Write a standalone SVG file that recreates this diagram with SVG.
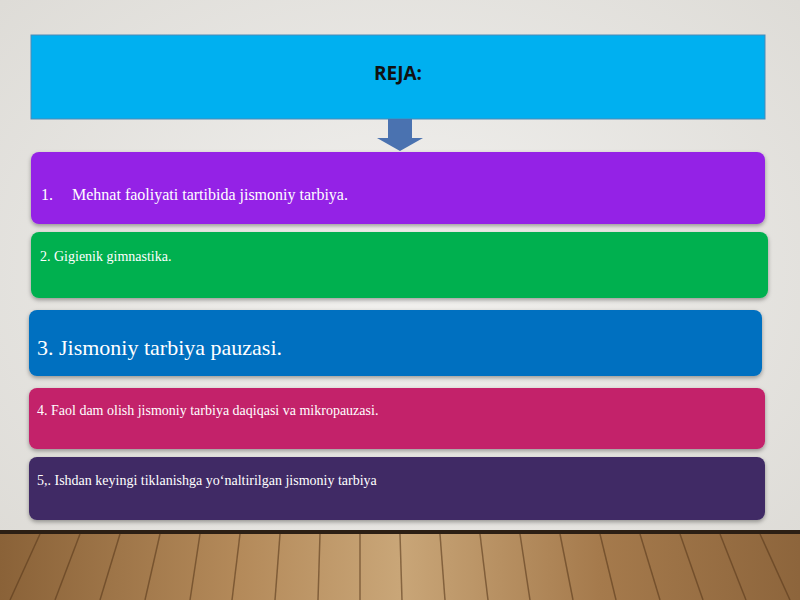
<svg xmlns="http://www.w3.org/2000/svg" width="800" height="600" viewBox="0 0 800 600">
<defs>
<radialGradient id="bg" cx="0.5" cy="0.45" r="0.7"><stop offset="0" stop-color="#f2f1ef"/><stop offset="1" stop-color="#dddbd6"/></radialGradient>
<linearGradient id="wood" x1="0" y1="0" x2="1" y2="0"><stop offset="0" stop-color="#8a6238"/><stop offset="0.3" stop-color="#b48a5a"/><stop offset="0.5" stop-color="#c9a678"/><stop offset="0.75" stop-color="#a57a4c"/><stop offset="1" stop-color="#8d653c"/></linearGradient>
<filter id="sh" x="-5%" y="-10%" width="110%" height="130%"><feDropShadow dx="0" dy="2" stdDeviation="2" flood-opacity="0.35"/></filter>
</defs>
<style>
.t{font-family:"Liberation Serif",serif;fill:#fff}
.pl{stroke:#5a3a1c;stroke-width:1.5;opacity:0.6}
</style>
<rect width="800" height="600" fill="url(#bg)"/>
<g id="floor">
<rect x="0" y="533" width="800" height="67" fill="url(#wood)"/>
<rect x="0" y="530" width="800" height="4" fill="#2c1f14"/>
<g class="pl">
<line x1="40" y1="534" x2="10" y2="600"/><line x1="80" y1="534" x2="55" y2="600"/><line x1="120" y1="534" x2="100" y2="600"/><line x1="160" y1="534" x2="145" y2="600"/><line x1="200" y1="534" x2="190" y2="600"/><line x1="240" y1="534" x2="232" y2="600"/><line x1="280" y1="534" x2="275" y2="600"/><line x1="320" y1="534" x2="318" y2="600"/><line x1="360" y1="534" x2="360" y2="600"/><line x1="400" y1="534" x2="402" y2="600"/><line x1="440" y1="534" x2="445" y2="600"/><line x1="480" y1="534" x2="488" y2="600"/><line x1="520" y1="534" x2="530" y2="600"/><line x1="560" y1="534" x2="573" y2="600"/><line x1="600" y1="534" x2="616" y2="600"/><line x1="640" y1="534" x2="660" y2="600"/><line x1="680" y1="534" x2="703" y2="600"/><line x1="720" y1="534" x2="746" y2="600"/><line x1="760" y1="534" x2="790" y2="600"/>
</g>
</g>
<g id="header"><rect x="31" y="35" width="734" height="84" fill="#00b0f0" stroke="#4a8ab8" stroke-width="1"/>
<text x="398" y="80" text-anchor="middle" font-family="Open Sans, sans-serif" font-weight="bold" font-size="19" fill="#111">REJA:</text></g>
<g id="connectors"><path d="M388,119 H412 V138 H423 L400,151 L377,138 H388 Z" fill="#4a72b0"/></g>
<g id="n1"><rect x="31" y="152" width="734" height="72" rx="8" fill="#9424e6" filter="url(#sh)"/>
<text class="t" x="41" y="200" font-size="16">1.</text><text class="t" x="72" y="200" font-size="16">Mehnat faoliyati tartibida jismoniy tarbiya.</text></g>
<g id="n2"><rect x="31" y="232" width="737" height="66" rx="8" fill="#00b050" filter="url(#sh)"/>
<text class="t" x="40" y="261" font-size="14">2. Gigienik gimnastika.</text></g>
<g id="n3"><rect x="29" y="310" width="733" height="66" rx="8" fill="#0070c0" filter="url(#sh)"/>
<text class="t" x="37" y="355" font-size="22">3. Jismoniy tarbiya pauzasi.</text></g>
<g id="n4"><rect x="29" y="388" width="736" height="61" rx="8" fill="#c3206a" filter="url(#sh)"/>
<text class="t" x="37" y="415" font-size="14">4. Faol dam olish jismoniy tarbiya daqiqasi va mikropauzasi.</text></g>
<g id="n5"><rect x="29" y="457" width="736" height="63" rx="8" fill="#3f2b65" filter="url(#sh)"/>
<text class="t" x="37" y="485" font-size="14">5,. Ishdan keyingi tiklanishga yoʻnaltirilgan jismoniy tarbiya</text></g>
</svg>
